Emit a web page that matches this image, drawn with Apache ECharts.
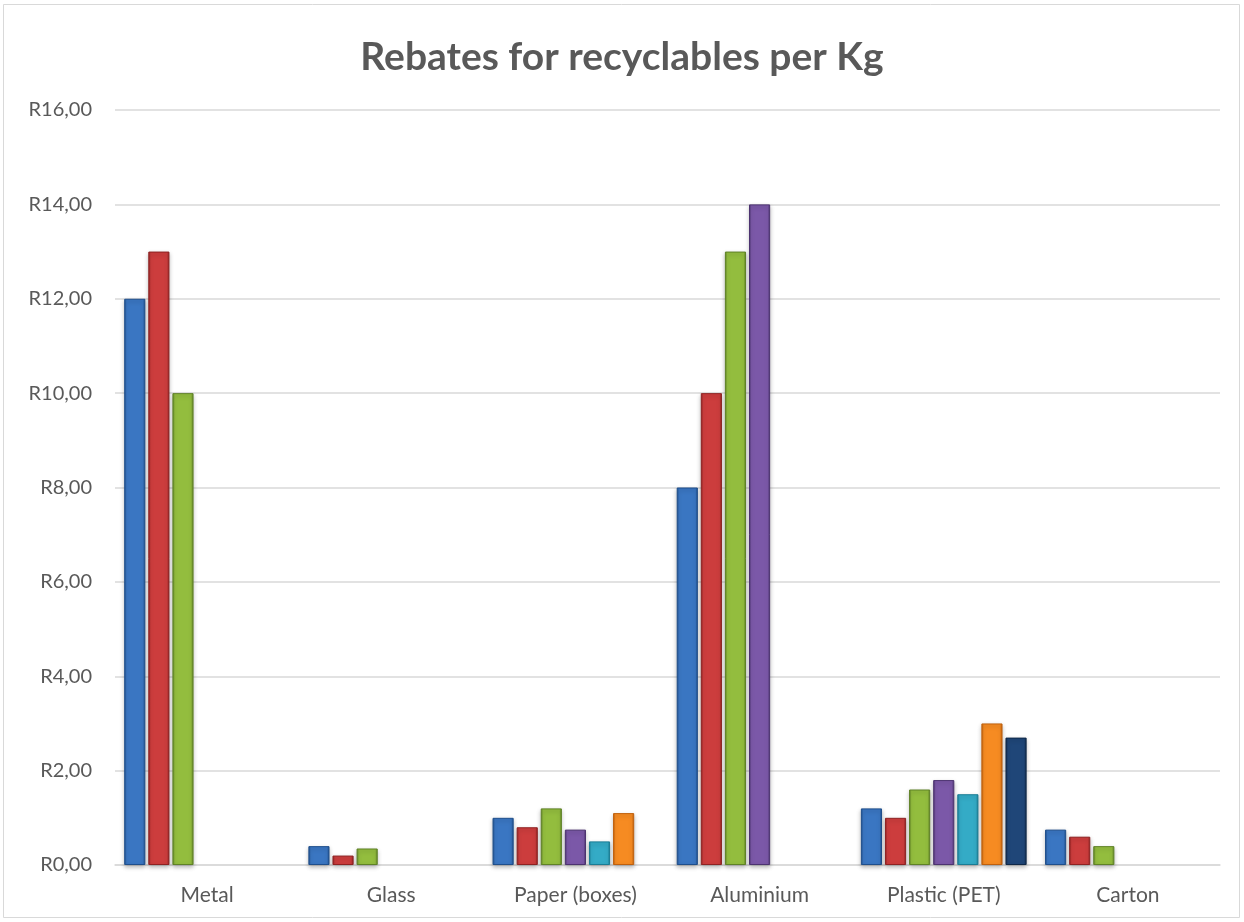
<!DOCTYPE html>
<html>
<head>
<meta charset="utf-8">
<script src="https://cdn.jsdelivr.net/npm/echarts@6/dist/echarts.min.js"></script>
<style>
  html, body { margin: 0; padding: 0; background: #fff; }
  #chart { width: 1244px; height: 922px; }
</style>
</head>
<body>
<div id="chart"></div>
<script>
// Rebate values (Rand per kg) per recyclable material, one array per buyer
const categories = ['Metal', 'Glass', 'Paper (boxes)', 'Aluminium', 'Plastic (PET)', 'Carton'];
const series1 = [12, 0.4, 1.0, 8, 1.2, 0.75];
const series2 = [13, 0.2, 0.8, 10, 1.0, 0.6];
const series3 = [10, 0.35, 1.2, 13, 1.6, 0.4];
const series4 = [null, null, 0.75, 14, 1.8, null];
const series5 = [null, null, 0.5, null, 1.5, null];
const series6 = [null, null, 1.1, null, 3.0, null];
const series7 = [null, null, null, null, 2.7, null];
const yTicks = [0, 2, 4, 6, 8, 10, 12, 14, 16];

// [edge, body] colour pairs for the bevelled bars
const palette = [
  ['#1f4f8c', '#3a76c2'],
  ['#8f2222', '#cc3d3d'],
  ['#5f8226', '#93bd3e'],
  ['#4c3370', '#7b58a8'],
  ['#1a7d95', '#34abc6'],
  ['#c0600c', '#f68b22'],
  ['#0f2848', '#1f4678']
];

function barStyle(pair) {
  return {
    color: new echarts.graphic.LinearGradient(0, 0, 1, 0, [
      { offset: 0, color: pair[0] },
      { offset: 0.12, color: pair[1] },
      { offset: 0.88, color: pair[1] },
      { offset: 1, color: pair[0] }
    ]),
    borderColor: pair[0],
    borderWidth: 1,
    shadowColor: 'rgba(0,0,0,0.25)',
    shadowBlur: 4,
    shadowOffsetY: 2
  };
}

const allSeries = [series1, series2, series3, series4, series5, series6, series7];

const chart = echarts.init(document.getElementById('chart'), null, { renderer: 'canvas' });
chart.setOption({
  backgroundColor: '#ffffff',
  animation: false,
  title: {
    text: 'Rebates for recyclables per Kg',
    left: 'center',
    top: 33,
    textStyle: { fontFamily: 'Lato', fontWeight: 'bold', fontSize: 39, color: '#595959' }
  },
  graphic: [{
    type: 'rect',
    shape: { x: 3.5, y: 4.5, width: 1236, height: 913 },
    style: { fill: 'none', stroke: '#d9d9d9', lineWidth: 1 },
    silent: true
  }],
  grid: { left: 115, right: 24, top: 110, bottom: 57, containLabel: false },
  xAxis: {
    type: 'category',
    data: categories,
    axisLine: { lineStyle: { color: '#d9d9d9', width: 1.5 } },
    axisTick: { show: false },
    axisLabel: { color: '#595959', fontFamily: 'Lato', fontSize: 21, margin: 20 }
  },
  yAxis: {
    type: 'value',
    min: yTicks[0],
    max: yTicks[yTicks.length - 1],
    interval: yTicks[1] - yTicks[0],
    axisLine: { show: false },
    axisTick: { show: false },
    splitLine: { lineStyle: { color: '#d9d9d9', width: 1.5 } },
    axisLabel: {
      color: '#595959', fontFamily: 'Lato', fontSize: 20, margin: 23,
      formatter: v => 'R' + v.toFixed(2).replace('.', ',')
    }
  },
  series: allSeries.map((d, i) => ({
    type: 'bar',
    name: 'Series ' + (i + 1),
    data: d,
    barGap: '14%',
    barCategoryGap: '10%',
    itemStyle: barStyle(palette[i])
  }))
});
</script>
</body>
</html>
